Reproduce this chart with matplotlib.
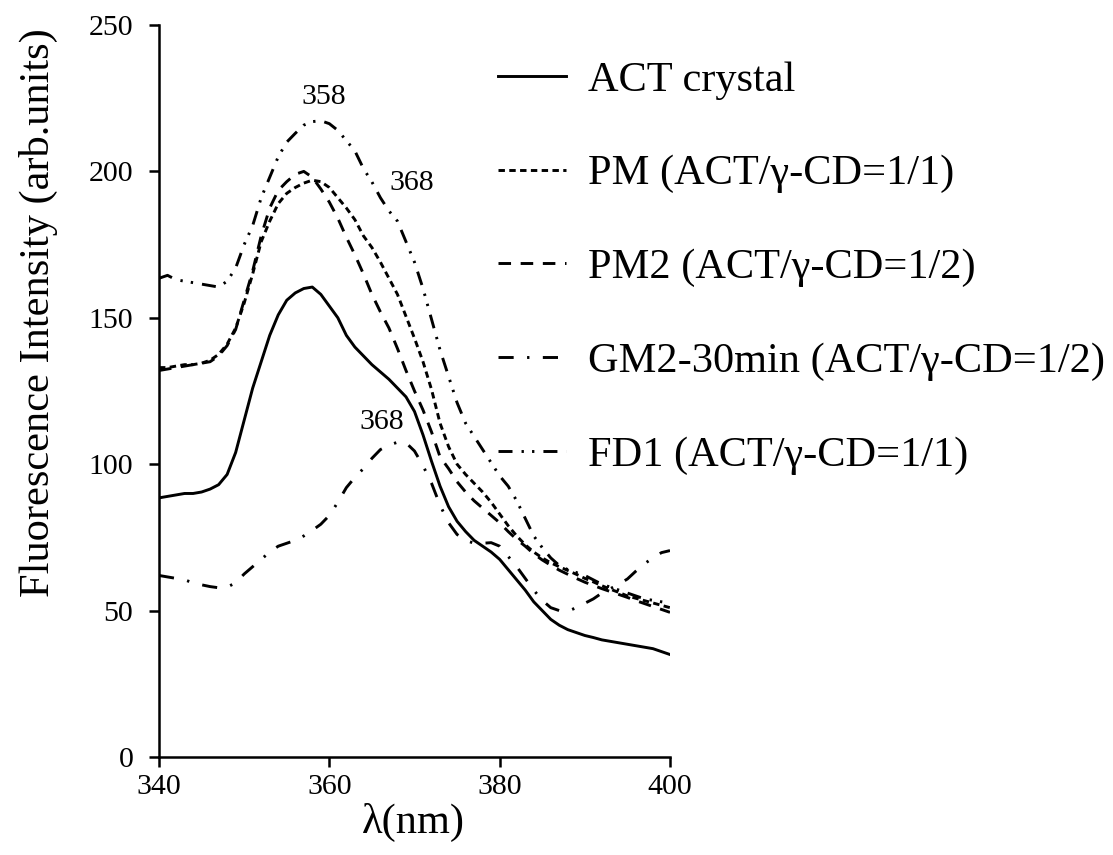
import numpy as np
import matplotlib
matplotlib.use("Agg")
import matplotlib.pyplot as plt

plt.rcParams['font.family'] = ['Liberation Serif', 'DejaVu Serif']

wavelength = np.arange(340, 401, 1)

act_crystal = [88.5, 89, 89.5, 90, 90, 90.5, 91.5, 93, 96.5, 104,
               115, 126, 135, 144, 151, 156, 158.5, 160, 160.5, 158,
               154, 150, 144, 140, 137, 134, 131.5, 129, 126, 123,
               118, 110, 101, 92.5, 85.5, 80.5, 77, 74, 72, 70,
               67.5, 64, 60.5, 57, 53, 50, 47, 45, 43.5, 42.5,
               41.5, 40.8, 40, 39.5, 39, 38.5, 38, 37.5, 37, 36, 35]

pm = [133, 133, 133.5, 134, 134, 134.5, 135.5, 137.5, 141, 146.5,
      155, 165, 176, 183, 189, 192.5, 194.5, 196, 197, 196.5,
      194.5, 191, 187.5, 183.5, 178, 174, 169, 163.5, 158, 150.5,
      143, 135, 125.5, 114, 106, 100, 96.5, 93.5, 90.5, 87,
      83, 79, 75.5, 72.5, 70, 68, 66.3, 65, 63.7, 62.4,
      61, 59.8, 58.5, 57.3, 56.2, 55, 54.2, 53.4, 52.6, 51.8, 51]

pm2 = [132, 132.5, 133, 133.5, 134, 134.5, 135, 137, 140.5, 146,
       156, 166, 178, 187.5, 193.5, 196.5, 199, 200, 198, 194,
       189.5, 184, 177.5, 171.5, 165, 158, 152, 146.5, 139.5, 132,
       125, 118.5, 111, 102.5, 98.5, 94, 90.5, 87.5, 85, 82.5,
       80, 77, 74.3, 72, 69.4, 67.3, 65.5, 63.8, 62.4, 61,
       59.7, 58.6, 57.5, 56.5, 55.5, 54.5, 53.4, 52.4, 51.4, 50.4, 49.4]

gm2_30min = [62, 61.5, 61, 60.5, 59.5, 58.8, 58.2, 57.8, 58, 59.5,
             62.5, 65, 67.5, 70, 72, 73, 74, 75.5, 77.4, 79.5,
             82.5, 87, 92, 95.5, 98.5, 102, 105, 106.5, 107.5, 107.3,
             104.5, 99.5, 93.5, 86, 80, 76, 74, 73, 73, 73.2,
             72, 68.5, 65, 61, 57, 53.5, 51, 50, 49.8, 51,
             52.5, 54, 56, 57.5, 59, 60.8, 63.5, 66, 68, 69.8, 70.5]

fd1 = [163.5, 164.5, 163, 162.5, 162, 161.5, 161, 160.5, 162.5, 167,
       175, 181.5, 191, 198, 205, 210, 213, 215.8, 217, 217.3,
       216.3, 214, 210.5, 207, 201, 196.4, 191, 186.5, 183, 176,
       169, 160, 149.5, 139, 130, 121, 114, 109.5, 105, 100.5,
       96, 92.5, 87.5, 81.5, 75.5, 71.5, 68, 65.4, 64, 63,
       62, 60.5, 59, 58, 57, 56, 55, 54, 53.5, 53, 52.5]

labels = ["ACT crystal", "PM (ACT/γ-CD=1/1)", "PM2 (ACT/γ-CD=1/2)",
          "GM2-30min (ACT/γ-CD=1/2)", "FD1 (ACT/γ-CD=1/1)"]

fig = plt.figure(figsize=(11.13, 8.55), dpi=100)
ax = fig.add_axes([159/1113, 1-757/855, 511/1113, 732/855])

lw = 2.1
ax.plot(wavelength, act_crystal, color='black', lw=lw, linestyle='-', label=labels[0])
ax.plot(wavelength, pm, color='black', lw=lw, linestyle=(0, (2.2, 1.5)), label=labels[1])
ax.plot(wavelength, pm2, color='black', lw=lw, linestyle=(0, (4.3, 3.3)), label=labels[2])
ax.plot(wavelength, gm2_30min, color='black', lw=lw, linestyle=(0, (5.2, 4.6, 0.8, 4.6)), label=labels[3])
ax.plot(wavelength, fd1, color='black', lw=lw, linestyle=(0, (4.8, 3.1, 0.8, 2.8, 0.8, 3.1)), label=labels[4])

ax.set_xlim(340, 400)
ax.set_ylim(0, 250)
ax.set_xticks([340, 360, 380, 400])
ax.set_yticks([0, 50, 100, 150, 200, 250])
ax.spines['top'].set_visible(False)
ax.spines['right'].set_visible(False)
ax.spines['left'].set_linewidth(1.8)
ax.spines['bottom'].set_linewidth(1.8)
ax.tick_params(axis='both', direction='out', length=7, width=1.8, labelsize=21.5)
ax.tick_params(axis='y', pad=11.5)
ax.tick_params(axis='x', pad=5)

ax.text(359.4, 225.3, "358", fontsize=21.5, ha='center', va='center')
ax.text(369.7, 196, "368", fontsize=21.5, ha='center', va='center')
ax.text(366.2, 114.5, "368", fontsize=21.5, ha='center', va='center')

fig.text(38/1113, 1-313/855, "Fluorescence Intensity (arb.units)", fontsize=30.5,
         rotation=90, ha='center', va='center')
fig.text(413/1113, 1-822/855, "λ(nm)", fontsize=30.5, ha='center', va='center')

ax.legend(loc='upper left', bbox_to_anchor=(498/1113, 1-61/855),
          bbox_transform=fig.transFigure, frameon=False, fontsize=30.5,
          borderpad=0, borderaxespad=0, handlelength=1.6, handletextpad=0.52,
          labelspacing=1.3)

fig.savefig("out.png", dpi=100)
